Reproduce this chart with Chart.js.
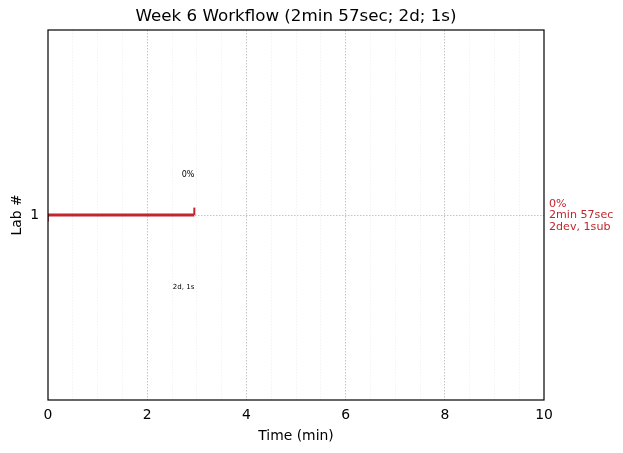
<!DOCTYPE html>
<html>
<head>
<meta charset="utf-8">
<script src="https://cdn.jsdelivr.net/npm/chart.js@4.4.1/dist/chart.umd.min.js"></script>
<style>
    html, body { margin: 0; padding: 0; background: #fff; }
    #wrap { width: 623px; height: 453px; }
</style>
</head>
<body>
<div id="wrap"><canvas id="workflowChart"></canvas></div>
<script>
const titleText = "Week 6 Workflow (2min 57sec; 2d; 1s)";
const labs = [1];
const durationsMin = [2.95];
const durationLabels = ["2min 57sec"];
const progressLabels = ["0%"];
const devCounts = [2];
const subCounts = [1];
const xTickValues = [0, 2, 4, 6, 8, 10];

const red = "#c0272d";

document.addEventListener(

    "DOMContentLoaded",

    () => {

        /*
         * Datasets built from the arrays
         */

        const datasets = [];

        labs.forEach((lab, i) => {

            datasets.push({
                data: [
                    { x: 0, y: lab },
                    { x: durationsMin[i], y: lab }
                ],
                borderColor: red,
                borderWidth: 3,
                pointRadius: 0
            });

            // small step marks at start and end
            datasets.push({
                data: [
                    { x: 0, y: lab },
                    { x: 0, y: lab - 0.035 }
                ],
                borderColor: red,
                borderWidth: 1.5,
                pointRadius: 0
            });

            datasets.push({
                data: [
                    { x: durationsMin[i], y: lab },
                    { x: durationsMin[i], y: lab + 0.04 }
                ],
                borderColor: red,
                borderWidth: 2,
                pointRadius: 0
            });

        });


        /*
         * Annotation plugin: title, frame, labels
         */

        const annotate = {

            id: "annotate",

            afterDatasetsDraw(chart) {

                const ctx = chart.ctx;
                const area = chart.chartArea;
                const xs = chart.scales.x;
                const ys = chart.scales.y;

                ctx.save();

                ctx.strokeStyle = "#000";
                ctx.lineWidth = 1.2;
                ctx.strokeRect(area.left, area.top, area.right - area.left, area.bottom - area.top);

                ctx.fillStyle = "#000";
                ctx.font = "16.7px 'DejaVu Sans'";
                ctx.textAlign = "center";
                ctx.textBaseline = "middle";
                ctx.fillText(titleText, (area.left + area.right) / 2, 16.5);

                labs.forEach((lab, i) => {

                    const xe = xs.getPixelForValue(durationsMin[i]);
                    const yl = ys.getPixelForValue(lab);

                    ctx.fillStyle = "#000";
                    ctx.textAlign = "right";
                    ctx.font = "8px 'DejaVu Sans'";
                    ctx.fillText(progressLabels[i], xe, yl - 40);

                    ctx.font = "7px 'DejaVu Sans'";
                    ctx.fillText(devCounts[i] + "d, " + subCounts[i] + "s", xe, yl + 72);

                    ctx.fillStyle = red;
                    ctx.textAlign = "left";
                    ctx.font = "11.1px 'DejaVu Sans'";
                    ctx.fillText(progressLabels[i], area.right + 5, yl - 11);
                    ctx.fillText(durationLabels[i], area.right + 5, yl);
                    ctx.fillText(devCounts[i] + "dev, " + subCounts[i] + "sub", area.right + 5, yl + 12);

                });

                ctx.restore();

            }

        };


        new Chart(

            document.getElementById("workflowChart"),

            {

                type: "line",

                data: { datasets },

                options: {

                    responsive: true,
                    maintainAspectRatio: false,
                    animation: false,

                    layout: {
                        padding: { left: 0, right: 79, top: 30, bottom: 0 }
                    },

                    plugins: {
                        legend: { display: false },
                        tooltip: { enabled: false }
                    },

                    scales: {

                        x: {
                            type: "linear",
                            min: 0,
                            max: 10,
                            afterFit: s => { s.height = 53; },
                            afterBuildTicks: s => {
                                const t = [];
                                for (let v = 0; v <= 20; v++) t.push({ value: v / 2 });
                                s.ticks = t;
                            },
                            ticks: {
                                autoSkip: false,
                                maxRotation: 0,
                                padding: 7,
                                color: "#000",
                                font: { family: "DejaVu Sans", size: 13.9 },
                                callback: v => xTickValues.includes(v) ? String(v) : ""
                            },
                            grid: {
                                drawTicks: false,
                                color: c => {
                                    const v = c.tick ? c.tick.value : 0;
                                    if (v === 0 || v === 10) return "rgba(0,0,0,0)";
                                    return xTickValues.includes(v) ? "#c4c4c4" : "#f3f3f3";
                                },
                                lineWidth: 1
                            },
                            border: { display: false, dash: [1.5, 1.5] },
                            title: {
                                display: true,
                                text: "Time (min)",
                                color: "#000",
                                font: { family: "DejaVu Sans", size: 13.9 },
                                padding: { top: 4, bottom: 8.5 }
                            }
                        },

                        y: {
                            type: "linear",
                            min: 0,
                            max: 2,
                            afterFit: s => { s.width = 48; },
                            afterBuildTicks: s => {
                                s.ticks = labs.map(v => ({ value: v }));
                            },
                            ticks: {
                                padding: 9,
                                color: "#000",
                                font: { family: "DejaVu Sans", size: 13.9 }
                            },
                            grid: {
                                drawTicks: false,
                                color: "#c4c4c4"
                            },
                            border: { display: false, dash: [1.5, 1.5] },
                            title: {
                                display: true,
                                text: "Lab #",
                                color: "#000",
                                font: { family: "DejaVu Sans", size: 13.9 },
                                padding: { top: 9, bottom: 0 }
                            }
                        }

                    }

                },

                plugins: [annotate]

            }

        );

    }

);
</script>
</body>
</html>
